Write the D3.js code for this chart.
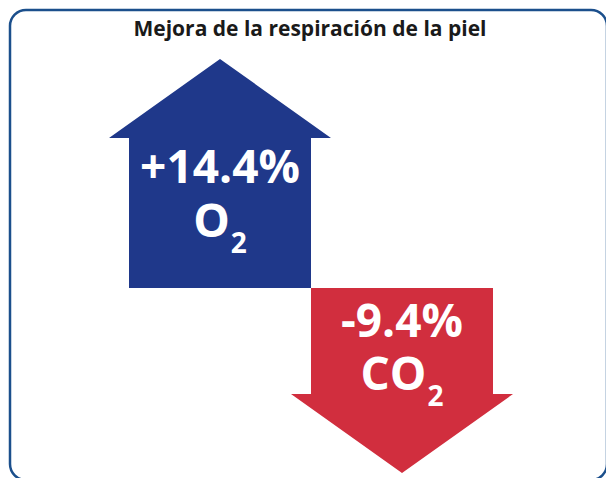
<!DOCTYPE html>
<html>
<head>
<meta charset="utf-8">
<script src="https://cdn.jsdelivr.net/npm/d3@7"></script>
<style>
  body { margin: 0; background: #fff; }
  svg { display: block; }
</style>
</head>
<body>
<div id="chart"></div>
<script>
/* data */
var categories = ["O2", "CO2"]
var values = [14.4, -9.4]
var valueLabels = ["+14.4%", "-9.4%"]
var gasNames = ["O", "CO"]
var gasSubs = ["2", "2"]
var colors = ["#1f388a", "#d12e3e"]
var title = "Mejora de la respiración de la piel"

var width = 606, height = 478
var baseY = 288      // where both arrows meet
var headLen = 79     // arrow head length
var headOver = 20    // head overhang on each side of body

var svg = d3.select("#chart").append("svg")
    .attr("width", width)
    .attr("height", height)

// frame (runs off the right and bottom edges like the original)
svg.append("rect")
    .attr("x", 10).attr("y", 10)
    .attr("width", 597).attr("height", 470)
    .attr("rx", 16).attr("ry", 16)
    .attr("fill", "none")
    .attr("stroke", "#1b4f8c")
    .attr("stroke-width", 2.5)

svg.append("text")
    .attr("x", 310).attr("y", 36)
    .attr("text-anchor", "middle")
    .attr("font-family", "'Open Sans', sans-serif")
    .attr("font-weight", 700)
    .attr("font-size", 21)
    .attr("fill", "#1a1a1a")
    .text(title)

var x = d3.scaleBand().domain(categories).range([129, 493]).padding(0)
var y = d3.scaleLinear().domain([d3.min(values), d3.max(values)]).range([473, 59])

function arrowPath(d, i) {
  var x0 = x(categories[i]), x1 = x0 + x.bandwidth(), cx = x0 + x.bandwidth() / 2
  var tip = y(d)
  var dir = d >= 0 ? 1 : -1
  var neck = tip + dir * headLen
  var p = d3.path()
  p.moveTo(x0, baseY)
  p.lineTo(x0, neck)
  p.lineTo(x0 - headOver, neck)
  p.lineTo(cx, tip)
  p.lineTo(x1 + headOver, neck)
  p.lineTo(x1, neck)
  p.lineTo(x1, baseY)
  p.closePath()
  return p.toString()
}

svg.selectAll(".arrow")
    .data(values)
  .enter().append("path")
    .attr("class", "arrow")
    .attr("d", arrowPath)
    .attr("fill", function (d, i) { return colors[i] })

var labels = svg.selectAll(".lbl")
    .data(values)
  .enter().append("g")
    .attr("class", "lbl")
    .attr("font-family", "'Open Sans', sans-serif")
    .attr("font-weight", 700)
    .attr("fill", "#fff")
    .attr("text-anchor", "middle")

// value text: top line inside the body
labels.append("text")
    .attr("x", function (d, i) { return x(categories[i]) + x.bandwidth() / 2 })
    .attr("y", function (d, i) { return d >= 0 ? 183 : 337 })
    .attr("font-size", 46)
    .text(function (d, i) { return valueLabels[i] })

var gas = labels.append("text")
    .attr("x", function (d, i) { return x(categories[i]) + x.bandwidth() / 2 })
    .attr("y", function (d, i) { return d >= 0 ? 237 : 390 })
    .attr("font-size", 46)
gas.append("tspan").text(function (d, i) { return gasNames[i] })
gas.append("tspan")
    .attr("font-size", 28)
    .attr("dx", 1)
    .attr("dy", 16)
    .text(function (d, i) { return gasSubs[i] })
</script>
</body>
</html>
